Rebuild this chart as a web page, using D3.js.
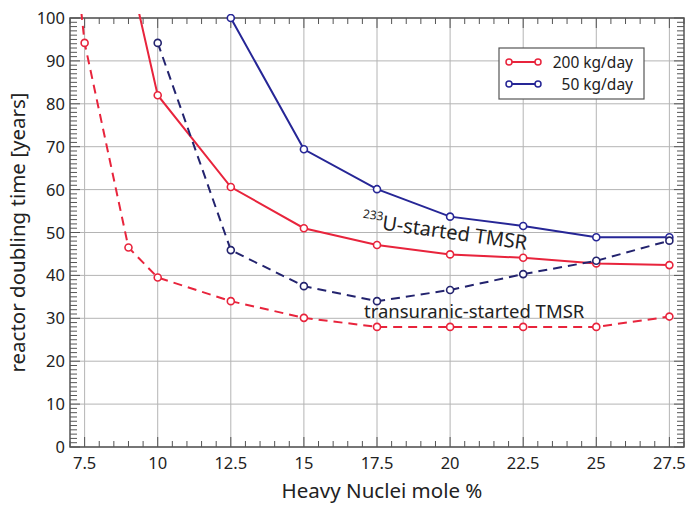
<!DOCTYPE html>
<html>
<head>
<meta charset="utf-8">
<script src="https://cdn.jsdelivr.net/npm/d3@7"></script>
<style>
  body { margin: 0; background: #fff; }
  svg text { font-family: "Noto Sans", "DejaVu Sans", sans-serif; fill: #222; }
</style>
</head>
<body>
<svg id="chart" width="693" height="505"></svg>
<script>
// heavy nuclei mole % (x) and doubling time in years (y)
const u233_200_x = [9, 10, 12.5, 15, 17.5, 20, 22.5, 25, 27.5];
const u233_200_y = [112, 82.0, 60.6, 51.0, 47.1, 44.9, 44.1, 42.8, 42.4];
const tru_200_x = [7, 7.5, 9, 10, 12.5, 15, 17.5, 20, 22.5, 25, 27.5];
const tru_200_y = [126, 94.2, 46.5, 39.5, 34.0, 30.1, 28.0, 28.0, 28.0, 28.0, 30.4];
const u233_50_x = [12.5, 15, 17.5, 20, 22.5, 25, 27.5];
const u233_50_y = [100, 69.4, 60.1, 53.7, 51.5, 48.9, 48.9];
const tru_50_x = [10, 12.5, 15, 17.5, 20, 22.5, 25, 27.5];
const tru_50_y = [94.2, 45.9, 37.5, 34.0, 36.6, 40.3, 43.4, 48.1];

const xTicks = [7.5, 10, 12.5, 15, 17.5, 20, 22.5, 25, 27.5];
const yTicks = [0, 10, 20, 30, 40, 50, 60, 70, 80, 90, 100];
const legendLabels = ["200 kg/day", "50 kg/day"];

const red = "#e8243c";
const blue = "#262696";
const navy = "#23236e";

const svg = d3.select("#chart");
const pLeft = 70, pRight = 684, pTop = 18, pBottom = 447;

const x = d3.scaleLinear().domain([7, 28]).range([pLeft, pRight]);
const y = d3.scaleLinear().domain([0, 100]).range([pBottom, pTop]);

// grid
svg.append("g").selectAll("line").data(xTicks).join("line")
  .attr("x1", d => x(d)).attr("x2", d => x(d))
  .attr("y1", pTop).attr("y2", pBottom)
  .attr("stroke", "#b4b4b4").attr("stroke-width", 1);
svg.append("g").selectAll("line").data(yTicks).join("line")
  .attr("x1", pLeft).attr("x2", pRight)
  .attr("y1", d => y(d)).attr("y2", d => y(d))
  .attr("stroke", "#b4b4b4").attr("stroke-width", 1);

// minor ticks, all pointing inward
const xMinor = d3.range(7, 28.01, 0.5);
const yMinor = d3.range(0, 100.01, 1);
const tickG = svg.append("g").attr("stroke", "#555").attr("stroke-width", 1);
xMinor.forEach(v => {
  const len = xTicks.includes(v) ? 10 : 6;
  tickG.append("line").attr("x1", x(v)).attr("x2", x(v)).attr("y1", pBottom).attr("y2", pBottom - len);
  tickG.append("line").attr("x1", x(v)).attr("x2", x(v)).attr("y1", pTop).attr("y2", pTop + len);
});
yMinor.forEach(v => {
  const len = yTicks.includes(v) ? 10 : 7;
  tickG.append("line").attr("x1", pLeft).attr("x2", pLeft + len).attr("y1", y(v)).attr("y2", y(v));
  tickG.append("line").attr("x1", pRight).attr("x2", pRight - len).attr("y1", y(v)).attr("y2", y(v));
});

// frame
svg.append("rect")
  .attr("x", pLeft).attr("y", pTop)
  .attr("width", pRight - pLeft).attr("height", pBottom - pTop)
  .attr("fill", "none").attr("stroke", "#555").attr("stroke-width", 1.5);

// tick labels
svg.append("g").selectAll("text").data(xTicks).join("text")
  .attr("x", d => x(d)).attr("y", pBottom + 22)
  .attr("text-anchor", "middle").attr("font-size", 16.5)
  .text(d => d);
svg.append("g").selectAll("text").data(yTicks).join("text")
  .attr("x", pLeft - 5).attr("y", d => y(d) + 6)
  .attr("text-anchor", "end").attr("font-size", 16.5)
  .text(d => d);

// axis titles
svg.append("text")
  .attr("x", 382).attr("y", 498)
  .attr("text-anchor", "middle").attr("font-size", 20.5)
  .text("Heavy Nuclei mole %");
svg.append("text")
  .attr("transform", `translate(25,${(pTop + pBottom) / 2}) rotate(-90)`)
  .attr("text-anchor", "middle").attr("font-size", 20.5)
  .text("reactor doubling time [years]");

// series
svg.append("clipPath").attr("id", "plotclip")
  .append("rect").attr("x", pLeft).attr("y", pTop - 4)
  .attr("width", pRight - pLeft).attr("height", pBottom - pTop + 4);

const series = [
  { xs: u233_200_x, ys: u233_200_y, color: red, dash: null },
  { xs: tru_200_x, ys: tru_200_y, color: red, dash: "9,6" },
  { xs: u233_50_x, ys: u233_50_y, color: blue, dash: null },
  { xs: tru_50_x, ys: tru_50_y, color: navy, dash: "9,6" }
];

const line = d3.line().x(d => x(d[0])).y(d => y(d[1]));
const plot = svg.append("g").attr("clip-path", "url(#plotclip)");

series.forEach(s => {
  const pts = s.xs.map((v, i) => [v, s.ys[i]]);
  plot.append("path")
    .attr("d", line(pts))
    .attr("fill", "none")
    .attr("stroke", s.color)
    .attr("stroke-width", 2)
    .attr("stroke-dasharray", s.dash);
  plot.selectAll(null).data(pts.filter(p => p[1] <= 100)).join("circle")
    .attr("cx", d => x(d[0])).attr("cy", d => y(d[1]))
    .attr("r", 3.5)
    .attr("fill", "#fff")
    .attr("stroke", s.color)
    .attr("stroke-width", 1.6);
});

// annotations
svg.append("text")
  .attr("transform", "translate(378,229) rotate(8)")
  .attr("font-size", 20)
  .call(t => {
    t.append("tspan").attr("font-size", 12).attr("dx", -17).attr("dy", -9).text("233");
    t.append("tspan").attr("dy", 9).text("U-started TMSR");
  });
svg.append("text")
  .attr("x", 364).attr("y", 318)
  .attr("font-size", 18.5)
  .text("transuranic-started TMSR");

// legend
const lg = svg.append("g");
lg.append("rect")
  .attr("x", 499).attr("y", 48).attr("width", 145).attr("height", 51)
  .attr("fill", "#fff").attr("stroke", "#555").attr("stroke-width", 1.2);
[red, blue].forEach((c, i) => {
  const ly = 62 + i * 22;
  lg.append("line").attr("x1", 509).attr("x2", 538).attr("y1", ly).attr("y2", ly)
    .attr("stroke", c).attr("stroke-width", 2);
  [509, 538].forEach(cx => lg.append("circle").attr("cx", cx).attr("cy", ly).attr("r", 3)
    .attr("fill", "#fff").attr("stroke", c).attr("stroke-width", 1.5));
  lg.append("text").attr("x", 633).attr("y", ly + 5.5)
    .attr("text-anchor", "end").attr("font-size", 15.5)
    .text(legendLabels[i]);
});
</script>
</body>
</html>
